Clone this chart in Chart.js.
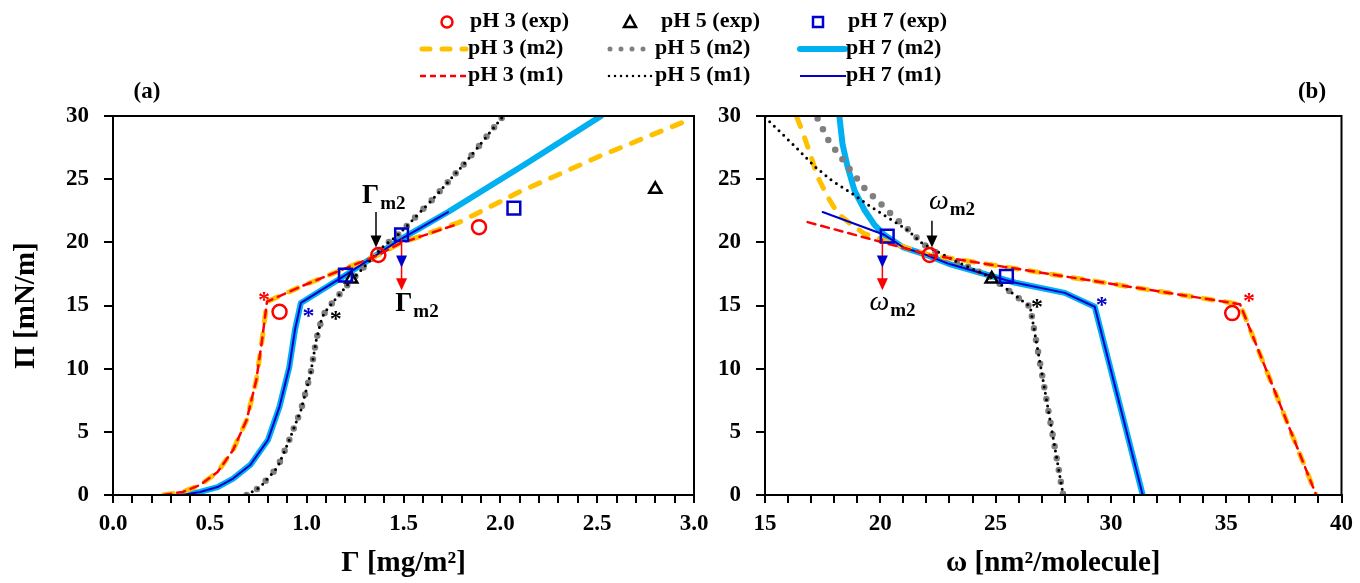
<!DOCTYPE html>
<html>
<head>
<meta charset="utf-8">
<script src="https://cdn.jsdelivr.net/npm/chart.js@4.4.1/dist/chart.umd.min.js"></script>
<style>
  body { margin: 0; background: #fff; width: 1360px; height: 583px; position: relative; overflow: hidden; }
  canvas { position: absolute; top: 0; }
  #chartA { left: 0; }
  #chartB { left: 700px; }
  #legend { position: absolute; left: 0; top: 0; }
  #legend text { font-family: "Liberation Serif", serif; font-weight: bold; fill: #000; }
</style>
</head>
<body>
<canvas id="chartA" width="720" height="583"></canvas>
<canvas id="chartB" width="660" height="583"></canvas>
<svg id="legend" width="1360" height="110">
  <!-- row 1: experiments -->
  <circle cx="447" cy="22" r="5.5" fill="none" stroke="#FF0000" stroke-width="2.5"/>
  <text x="470" y="22" font-size="22" dominant-baseline="middle">pH 3 (exp)</text>
  <polygon points="630,16 636,27 624,27" fill="none" stroke="#000" stroke-width="2.5" stroke-linejoin="miter"/>
  <text x="661" y="22" font-size="22" dominant-baseline="middle">pH 5 (exp)</text>
  <rect x="813" y="17" width="10" height="10" fill="none" stroke="#0000CC" stroke-width="2.5"/>
  <text x="848" y="22" font-size="22" dominant-baseline="middle">pH 7 (exp)</text>
  <!-- row 2: model m2 -->
  <line x1="422" y1="49" x2="466" y2="49" stroke="#FFC000" stroke-width="5" stroke-dasharray="8 12" stroke-linecap="round"/>
  <text x="468" y="49" font-size="22" dominant-baseline="middle">pH 3 (m2)</text>
  <line x1="610" y1="49" x2="654" y2="49" stroke="#7F7F7F" stroke-width="5" stroke-dasharray="0 11" stroke-linecap="round"/>
  <text x="655" y="49" font-size="22" dominant-baseline="middle">pH 5 (m2)</text>
  <line x1="800" y1="49" x2="845" y2="49" stroke="#00B0F0" stroke-width="6" stroke-linecap="round"/>
  <text x="846" y="49" font-size="22" dominant-baseline="middle">pH 7 (m2)</text>
  <!-- row 3: model m1 -->
  <line x1="420" y1="76" x2="467" y2="76" stroke="#FF0000" stroke-width="2.5" stroke-dasharray="6 4"/>
  <text x="468" y="76" font-size="22" dominant-baseline="middle">pH 3 (m1)</text>
  <line x1="609" y1="76" x2="654" y2="76" stroke="#000" stroke-width="2.5" stroke-dasharray="0 6" stroke-linecap="round"/>
  <text x="655" y="76" font-size="22" dominant-baseline="middle">pH 5 (m1)</text>
  <line x1="800" y1="76" x2="846" y2="76" stroke="#0000CC" stroke-width="2"/>
  <text x="846" y="76" font-size="22" dominant-baseline="middle">pH 7 (m1)</text>
  <!-- panel labels -->
  <text x="147" y="93" font-size="23" text-anchor="middle" dominant-baseline="middle">(a)</text>
  <text x="1312" y="93" font-size="23" text-anchor="middle" dominant-baseline="middle">(b)</text>
</svg>

<script>
// ---- panel (a): Π vs Γ ----
const gammaExp3 = [0.86, 1.37, 1.89];
const piGExp3 = [14.5, 19.0, 21.2];
const gammaExp5 = [1.23, 2.80];
const piGExp5 = [17.1, 24.2];
const gammaExp7 = [1.20, 1.49, 2.07];
const piGExp7 = [17.4, 20.6, 22.7];

const gammaM2pH3 = [0.26, 0.36, 0.45, 0.54, 0.62, 0.69, 0.74, 0.77, 0.795, 0.97, 1.37, 1.48, 1.79, 2.10, 2.51, 2.99];
const piGM2pH3 = [0, 0.24, 0.79, 1.82, 3.56, 5.94, 9.1, 12.3, 15.3, 16.5, 19.0, 19.9, 21.6, 24.0, 26.8, 29.8];
const gammaM1pH3 = [0.26, 0.36, 0.45, 0.54, 0.62, 0.69, 0.74, 0.77, 0.795, 0.97, 1.37, 1.48, 1.77];
const piGM1pH3 = [0, 0.24, 0.79, 1.82, 3.56, 5.94, 9.1, 12.3, 15.3, 16.5, 19.0, 19.9, 21.4];

const gammaM2pH5 = [0.69, 0.76, 0.85, 0.91, 0.97, 1.02, 1.05, 1.08, 1.11, 1.22, 1.39, 1.48, 1.65, 1.83, 2.01];
const piGM2pH5 = [0, 0.63, 2.2, 4.35, 6.7, 9.6, 12.3, 14.1, 14.8, 16.8, 19.6, 20.7, 23.4, 26.5, 29.9];
const gammaM1pH5 = gammaM2pH5;
const piGM1pH5 = piGM2pH5;

const gammaM2pH7 = [0.36, 0.45, 0.54, 0.62, 0.71, 0.80, 0.86, 0.91, 0.94, 0.97, 1.19, 1.48, 1.73, 2.13, 2.52];
const piGM2pH7 = [0, 0.24, 0.63, 1.3, 2.4, 4.35, 7.0, 10.1, 13.1, 15.2, 17.3, 20.2, 22.4, 26.2, 30.0];
const gammaM1pH7 = [0.36, 0.45, 0.54, 0.62, 0.71, 0.80, 0.86, 0.91, 0.94, 0.97, 1.19, 1.48, 1.73];
const piGM1pH7 = [0, 0.24, 0.63, 1.3, 2.4, 4.35, 7.0, 10.1, 13.1, 15.2, 17.3, 20.2, 22.4];

// ---- panel (b): Π vs ω ----
const omegaExp3 = [22.14, 35.26];
const piWExp3 = [19.0, 14.4];
const omegaExp5 = [24.83];
const piWExp5 = [17.1];
const omegaExp7 = [20.3, 25.47];
const piWExp7 = [20.5, 17.3];

const omegaM2pH3 = [16.38, 16.6, 16.94, 17.28, 17.72, 18.15, 18.75, 19.3, 20.3, 22.14, 35.6, 38.9];
const piWM2pH3 = [29.9, 28.9, 27.1, 25.2, 23.6, 22.3, 21.4, 20.7, 20.05, 19.0, 15.1, 0];
const omegaM1pH3 = [16.85, 20.3, 22.14, 35.6, 38.9];
const piWM1pH3 = [21.6, 19.9, 19.0, 15.1, 0];

const omegaM2pH5 = [17.28, 17.8, 18.1, 18.75, 19.4, 19.83, 20.26, 20.73, 21.34, 21.9, 22.76, 23.4, 24.83, 25.56, 26.5, 27.93];
const piWM2pH5 = [29.8, 27.9, 27.2, 25.6, 24.1, 23.4, 22.6, 21.8, 20.8, 19.8, 18.8, 18.4, 17.2, 16.2, 14.9, 0];
const omegaM1pH5 = [15.0, 16.3, 17.16, 17.89, 18.75, 19.6, 20.47, 21.16, 21.77, 22.33, 23.4, 24.83, 25.56, 26.5, 27.93];
const piWM1pH5 = [29.9, 27.6, 26.0, 24.9, 23.9, 22.8, 21.8, 21.0, 20.0, 19.4, 18.4, 17.2, 16.2, 14.9, 0];

const omegaM2pH7 = [18.23, 18.36, 18.58, 18.88, 19.3, 19.74, 20.17, 21.0, 22.0, 22.97, 25.86, 28.0, 29.3, 31.38];
const piWM2pH7 = [29.9, 27.8, 26.0, 24.1, 22.6, 21.4, 20.6, 19.6, 19.0, 18.3, 16.8, 16.0, 14.9, 0];
const omegaM1pH7 = [17.5, 20.17, 21.0, 22.0, 22.97, 25.86, 28.0, 29.3, 31.38];
const piWM1pH7 = [22.4, 20.6, 19.6, 19.0, 18.3, 16.8, 16.0, 14.9, 0];

// transition points (*) : [x, y, colour]
const starsA = [[0.78, 15.8, '#FF0000'], [1.01, 14.5, '#0000CC'], [1.15, 14.3, '#000']];
const starsB = [[35.99, 15.7, '#FF0000'], [29.6, 15.4, '#0000CC'], [26.8, 15.2, '#000']];

const RED = '#FF0000', ORANGE = '#FFC000', GRAY = '#7F7F7F', CYAN = '#00B0F0', BLUE = '#0000CC';
const FONT = 'Liberation Serif';

function pts(xs, ys) {
  return xs.map((x, i) => ({ x: x, y: ys[i] }));
}

function lineSet(label, xs, ys, color, width, dash, order) {
  return {
    label: label,
    data: pts(xs, ys),
    showLine: true,
    pointRadius: 0,
    borderColor: color,
    borderWidth: width,
    borderDash: dash,
    borderCapStyle: 'round',
    borderJoinStyle: 'round',
    fill: false,
    order: order
  };
}

function markerSet(label, xs, ys, color, style, radius) {
  return {
    label: label,
    data: pts(xs, ys),
    showLine: false,
    pointStyle: style,
    pointRadius: radius,
    pointBorderWidth: 2.5,
    pointBorderColor: color,
    pointBackgroundColor: 'rgba(255,255,255,0)',
    order: 0
  };
}

// frame + arrows + labels drawn on top of the data
const decorPlugin = {
  id: 'decor',
  afterDatasetsDraw(chart, args, opts) {
    const ctx = chart.ctx;
    const xs = chart.scales.x, ys = chart.scales.y;
    const a = chart.chartArea;
    ctx.save();
    ctx.strokeStyle = '#000';
    ctx.lineWidth = 2;
    ctx.strokeRect(a.left, a.top, a.right - a.left, a.bottom - a.top);

    (opts.arrows || []).forEach(ar => {
      const x = xs.getPixelForValue(ar.x);
      const y1 = ys.getPixelForValue(ar.from);
      const y2 = ys.getPixelForValue(ar.to);
      ctx.strokeStyle = ar.color;
      ctx.lineWidth = 1.5;
      ctx.beginPath();
      ctx.moveTo(x, y1);
      ctx.lineTo(x, y2 - 10);
      ctx.stroke();
      (ar.heads || [[ar.to, ar.color]]).forEach(h => {
        const yt = ys.getPixelForValue(h[0]);
        ctx.fillStyle = h[1];
        ctx.beginPath();
        ctx.moveTo(x, yt);
        ctx.lineTo(x - 5.5, yt - 12);
        ctx.lineTo(x + 5.5, yt - 12);
        ctx.closePath();
        ctx.fill();
      });
    });

    (opts.labels || []).forEach(lb => {
      const x = xs.getPixelForValue(lb.x);
      const y = ys.getPixelForValue(lb.y);
      ctx.fillStyle = '#000';
      ctx.textBaseline = 'alphabetic';
      ctx.textAlign = 'left';
      ctx.font = lb.font;
      ctx.fillText(lb.text, x, y);
      const w = ctx.measureText(lb.text).width;
      ctx.font = 'bold 19px "' + FONT + '"';
      ctx.fillText(lb.sub, x + w + 1, y + 6);
    });

    (opts.stars || []).forEach(s => {
      ctx.fillStyle = s[2];
      ctx.font = 'bold 24px "' + FONT + '"';
      ctx.textAlign = 'center';
      ctx.textBaseline = 'middle';
      ctx.fillText('*', xs.getPixelForValue(s[0]), ys.getPixelForValue(s[1]) + 5);
    });
    ctx.restore();
  }
};

const tickFont = { family: FONT, weight: 'bold', size: 23 };

function xScale(min, max, step, major, decimals, title, height) {
  return {
    type: 'linear',
    min: min,
    max: max,
    border: { display: true, color: '#000', width: 2 },
    grid: { drawOnChartArea: false, drawTicks: true, tickLength: 8, color: '#000', lineWidth: 2 },
    ticks: {
      stepSize: step,
      autoSkip: false,
      maxRotation: 0,
      padding: 7,
      color: '#000',
      font: tickFont,
      callback: v => Math.abs(v / major - Math.round(v / major)) < 1e-6 ? v.toFixed(decimals) : ''
    },
    title: {
      display: true,
      text: title,
      color: '#000',
      font: { family: FONT, weight: 'bold', size: 29 },
      padding: { top: 0, bottom: 2 }
    },
    afterFit: s => { s.height = height; }
  };
}

function yScale(width, withTitle) {
  return {
    type: 'linear',
    min: 0,
    max: 30,
    border: { display: true, color: '#000', width: 2 },
    grid: { drawOnChartArea: false, drawTicks: true, tickLength: 9, color: '#000', lineWidth: 2 },
    ticks: { stepSize: 5, padding: 15, color: '#000', font: tickFont },
    title: {
      display: withTitle,
      text: 'Π [mN/m]',
      color: '#000',
      font: { family: FONT, weight: 'bold', size: 29 },
      padding: { top: 9, bottom: 0 }
    },
    afterFit: s => { s.width = width; }
  };
}

function baseOptions(padRight, yWidth, withTitle, xConf, decor) {
  return {
    responsive: false,
    animation: false,
    devicePixelRatio: 1,
    layout: { padding: { top: 116, right: padRight, left: 0, bottom: 0 } },
    plugins: { legend: { display: false }, tooltip: { enabled: false }, decor: decor },
    scales: { x: xConf, y: yScale(yWidth, withTitle) }
  };
}

// ---- chart (a) ----
new Chart(document.getElementById('chartA').getContext('2d'), {
  type: 'scatter',
  data: {
    datasets: [
      markerSet('pH 7 (exp)', gammaExp7, piGExp7, BLUE, 'rect', 9),
      markerSet('pH 3 (exp)', gammaExp3, piGExp3, RED, 'circle', 7),
      markerSet('pH 5 (exp)', gammaExp5, piGExp5, '#000', 'triangle', 7),
      lineSet('pH 3 (m1)', gammaM1pH3, piGM1pH3, RED, 2.5, [8, 6], 1),
      lineSet('pH 5 (m1)', gammaM1pH5, piGM1pH5, '#000', 3, [0, 6.5], 1),
      lineSet('pH 7 (m1)', gammaM1pH7, piGM1pH7, BLUE, 2, [], 1),
      lineSet('pH 3 (m2)', gammaM2pH3, piGM2pH3, ORANGE, 5, [10, 12], 2),
      lineSet('pH 5 (m2)', gammaM2pH5, piGM2pH5, GRAY, 6.5, [0, 12], 2),
      lineSet('pH 7 (m2)', gammaM2pH7, piGM2pH7, CYAN, 6, [], 3)
    ]
  },
  options: baseOptions(26, 113, true,
    xScale(0, 3, 0.1, 0.5, 1, 'Γ [mg/m²]', 88),
    {
      arrows: [
        { x: 1.358, from: 22.4, to: 19.6, color: '#000' },
        { x: 1.49, from: 20.3, to: 16.2, color: RED, heads: [[18.0, BLUE], [16.2, RED]] }
      ],
      labels: [
        { x: 1.286, y: 23.1, text: 'Γ', sub: 'm2', font: 'bold 27px "' + FONT + '"' },
        { x: 1.457, y: 14.6, text: 'Γ', sub: 'm2', font: 'bold 27px "' + FONT + '"' }
      ],
      stars: starsA
    }),
  plugins: [decorPlugin]
});

// ---- chart (b) ----
new Chart(document.getElementById('chartB').getContext('2d'), {
  type: 'scatter',
  data: {
    datasets: [
      markerSet('pH 7 (exp)', omegaExp7, piWExp7, BLUE, 'rect', 9),
      markerSet('pH 3 (exp)', omegaExp3, piWExp3, RED, 'circle', 7),
      markerSet('pH 5 (exp)', omegaExp5, piWExp5, '#000', 'triangle', 7),
      lineSet('pH 3 (m1)', omegaM1pH3, piWM1pH3, RED, 2.5, [8, 6], 1),
      lineSet('pH 5 (m1)', omegaM1pH5, piWM1pH5, '#000', 3, [0, 6.5], 1),
      lineSet('pH 7 (m1)', omegaM1pH7, piWM1pH7, BLUE, 2, [], 1),
      lineSet('pH 3 (m2)', omegaM2pH3, piWM2pH3, ORANGE, 5, [10, 12], 2),
      lineSet('pH 5 (m2)', omegaM2pH5, piWM2pH5, GRAY, 6.5, [0, 12], 2),
      lineSet('pH 7 (m2)', omegaM2pH7, piWM2pH7, CYAN, 6, [], 3)
    ]
  },
  options: baseOptions(15, 65, false,
    xScale(15, 40, 1, 5, 0, 'ω [nm²/molecule]', 88),
    {
      arrows: [
        { x: 22.24, from: 21.7, to: 19.6, color: '#000' },
        { x: 20.09, from: 20.3, to: 16.2, color: RED, heads: [[18.0, BLUE], [16.2, RED]] }
      ],
      labels: [
        { x: 22.11, y: 22.6, text: 'ω', sub: 'm2', font: 'italic 28px "' + FONT + '"' },
        { x: 19.53, y: 14.65, text: 'ω', sub: 'm2', font: 'italic 28px "' + FONT + '"' }
      ],
      stars: starsB
    }),
  plugins: [decorPlugin]
});
</script>
</body>
</html>
